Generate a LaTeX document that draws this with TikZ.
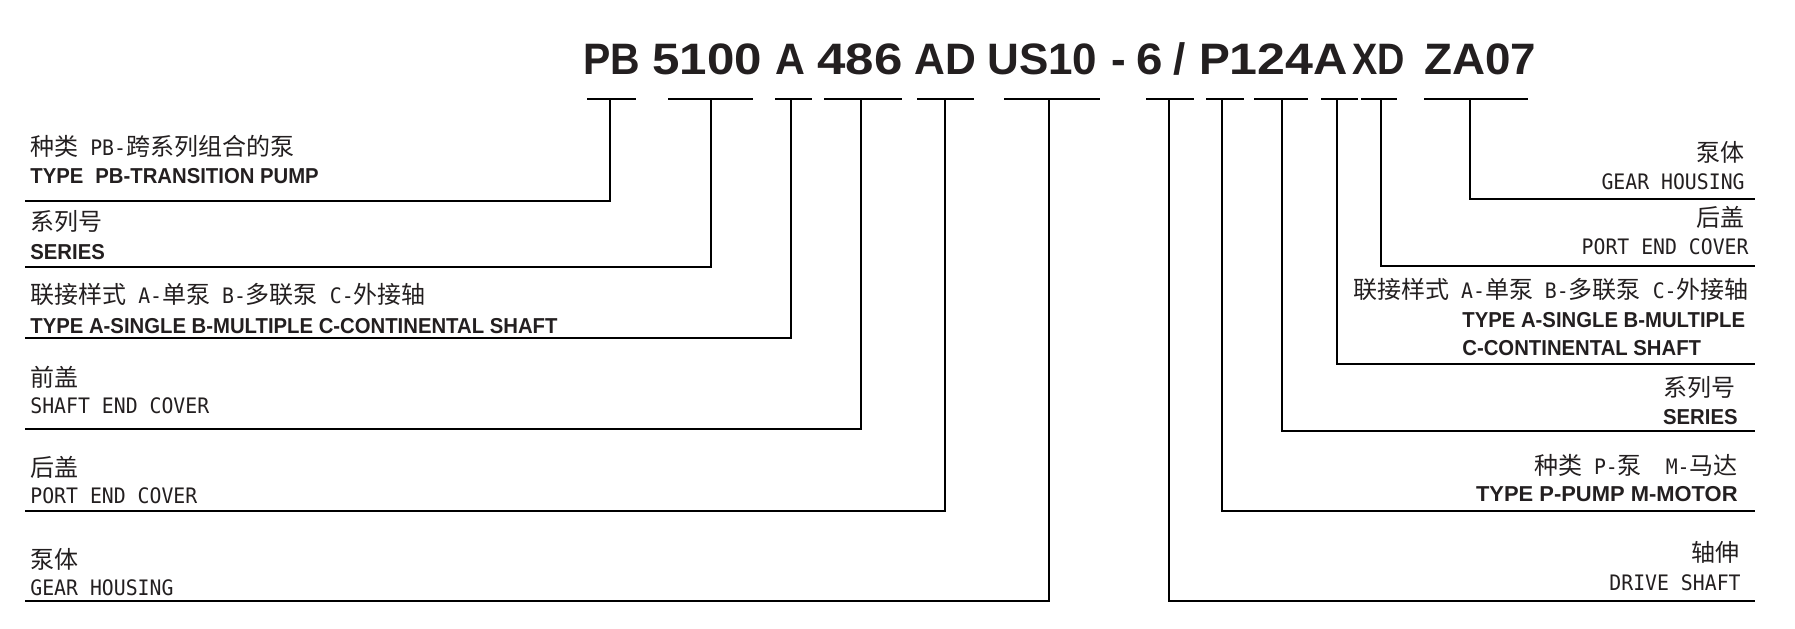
\documentclass[tikz,border=0pt]{standalone}
\usepackage{fontspec}
\setmainfont{Liberation Sans}
\newfontfamily\cjk{Noto Sans CJK SC}
\newfontfamily\mon{DejaVu Sans Mono}[FakeStretch=0.93]
\newfontfamily\bcd{Liberation Sans}[FakeStretch=0.94]
\newcommand\Lm[1]{{\fontsize{10.65}{12}\selectfont\mon #1}}
\newcommand\Lc[1]{{\fontsize{12}{12}\selectfont\cjk #1}}
\newcommand\Lb[1]{{\fontsize{10.8}{12}\selectfont\bcd\bfseries #1}}
\newcommand\Sx[2]{\scalebox{#1}[1]{#2}}
\definecolor{ink}{HTML}{231F20}
\tikzset{
  ln/.style={line width=1.4pt, draw=black},
  ttl/.style={inner sep=0pt, anchor=base west, text=ink, font=\fontsize{22}{22}\selectfont\bfseries},
  lw/.style={inner sep=0pt, anchor=base west, text=ink},
  le/.style={inner sep=0pt, anchor=base east, text=ink},
}
\begin{document}
\begin{tikzpicture}[x=0.5pt,y=-0.5pt]
\useasboundingbox (0,0) rectangle (1795,628);
% title segments
\node[ttl] (tPB)   at (583,74)  {\Sx{0.93}{PB}};
\node[ttl] (t5100) at (652,74)  {\Sx{1.12}{5100}};
\node[ttl] (tA)    at (775,74)  {\Sx{0.94}{A}};
\node[ttl] (t486)  at (817,74)  {\Sx{1.16}{486}};
\node[ttl] (tAD)   at (914,74)  {\Sx{0.97}{AD}};
\node[ttl] (tUS)   at (987,74)  {US10};
\node[ttl] (tdash) at (1111,74) {-};
\node[ttl] (t6)    at (1136,74) {\Sx{1.08}{6}};
\node[ttl] (tsl)   at (1173,74) {/};
\node[ttl] (tP)    at (1199,74) {\Sx{1.05}{P}};
\node[ttl] (t124)  at (1229,74) {\Sx{1.14}{124}};
\node[ttl] (tA2)   at (1313,74) {\Sx{1.08}{A}};
\node[ttl] (tXD)   at (1352,74) {\Sx{0.86}{XD}};
\node[ttl] (tZA)   at (1424,74) {\Sx{1.04}{ZA07}};
% bars
\foreach \n/\a/\b/\s in {PB/587/636/610, 5100/668/753/711, A/775/812/791, 486/824/902/861,
  AD/917/974/945, US/1004/1100/1049, 6/1146/1194/1169, P/1206/1244/1222,
  124/1254/1308/1282, A2/1321/1358/1337, XD/1361/1397/1381, ZA/1424/1528/1470}{
  \coordinate (b\n w) at (\a,99);
  \coordinate (b\n e) at (\b,99);
  \coordinate (b\n s) at (\s,99);
}
% line ends
\coordinate (eL1) at (25,201);
\coordinate (eL2) at (25,267);
\coordinate (eL3) at (25,338);
\coordinate (eL4) at (25,429);
\coordinate (eL5) at (25,511);
\coordinate (eL6) at (25,601);
\coordinate (eR1) at (1755,199);
\coordinate (eR2) at (1755,266);
\coordinate (eR3) at (1755,364);
\coordinate (eR4) at (1755,431);
\coordinate (eR5) at (1755,511);
\coordinate (eR6) at (1755,601);
\foreach \n in {PB,5100,A,486,AD,US,6,P,124,A2,XD,ZA}{
  \draw[ln] (b\n w) -- (b\n e);
}
\draw[ln] (bPBs) |- (eL1);
\draw[ln] (b5100s) |- (eL2);
\draw[ln] (bAs) |- (eL3);
\draw[ln] (b486s) |- (eL4);
\draw[ln] (bADs) |- (eL5);
\draw[ln] (bUSs) |- (eL6);
\draw[ln] (bZAs) |- (eR1);
\draw[ln] (bXDs) |- (eR2);
\draw[ln] (bA2s) |- (eR3);
\draw[ln] (b124s) |- (eR4);
\draw[ln] (bPs) |- (eR5);
\draw[ln] (b6s) |- (eR6);
% left labels
\node[lw] (l1a) at (30,155) {\Lc{种类}\Lm{\ PB-}\Lc{跨系列组合的泵}};
\node[lw] (l1b) at (30,183) {\Lb{TYPE\hspace{6pt}PB-TRANSITION PUMP}};
\node[lw] (l2a) at (30,230) {\Lc{系列号}};
\node[lw] (l2b) at (30,259) {\Lb{SERIES}};
\node[lw] (l3a) at (30,303) {\Lc{联接样式}\Lm{\ A-}\Lc{单泵}\Lm{\ B-}\Lc{多联泵}\Lm{\ C-}\Lc{外接轴}};
\node[lw] (l3b) at (30,333) {\Lb{TYPE A-SINGLE B-MULTIPLE C-CONTINENTAL SHAFT}};
\node[lw] (l4a) at (30,386) {\Lc{前盖}};
\node[lw] (l4b) at (30,413) {\Lm{SHAFT END COVER}};
\node[lw] (l5a) at (30,476) {\Lc{后盖}};
\node[lw] (l5b) at (30,503) {\Lm{PORT END COVER}};
\node[lw] (l6a) at (30,568) {\Lc{泵体}};
\node[lw] (l6b) at (30,595) {\Lm{GEAR HOUSING}};
% right labels
\node[le] (r1a) at (1745,161) {\Lc{泵体}};
\node[le] (r1b) at (1745,189) {\Lm{GEAR HOUSING}};
\node[le] (r2a) at (1745,226) {\Lc{后盖}};
\node[le] (r2b) at (1749,254) {\Lm{PORT END COVER}};
\node[le] (r3a) at (1749,298) {\Lc{联接样式}\Lm{\ A-}\Lc{单泵}\Lm{\ B-}\Lc{多联泵}\Lm{\ C-}\Lc{外接轴}};
\node[lw] (r3b) at (1462,327) {\Lb{TYPE A-SINGLE B-MULTIPLE}};
\node[lw] (r3c) at (1462,355) {\Lb{C-CONTINENTAL SHAFT}};
\node[le] (r4a) at (1736,396) {\Lc{系列号}};
\node[le] (r4b) at (1738,424) {\Lb{SERIES}};
\node[le] (r5a) at (1738,474) {\Lc{种类}\Lm{\ P-}\Lc{泵}\Lm{\ \ M-}\Lc{马达}};
\node[le] (r5b) at (1738,501) {\Lb{\Sx{1.08}{TYPE P-PUMP M-MOTOR}}};
\node[le] (r6a) at (1740,561) {\Lc{轴伸}};
\node[le] (r6b) at (1741,590) {\Lm{DRIVE SHAFT}};
\end{tikzpicture}
\end{document}
